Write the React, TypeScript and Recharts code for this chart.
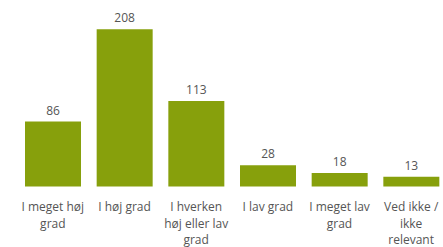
import { BarChart, Bar, XAxis, YAxis, LabelList } from 'recharts';

const categories = [
  'I meget høj\ngrad',
  'I høj grad',
  'I hverken\nhøj eller lav\ngrad',
  'I lav grad',
  'I meget lav\ngrad',
  'Ved ikke /\nikke\nrelevant',
];
const counts = [86, 208, 113, 28, 18, 13];

const data = categories.map((name, i) => ({ name, value: counts[i] }));

const FONT = '"Segoe UI", "Open Sans", sans-serif';

const CategoryTick = (props: any) => {
  const { x, y, payload } = props;
  const lines = String(payload.value).split('\n');
  return (
    <text x={x} y={y} textAnchor="middle" fill="#555" fontSize={12} fontFamily={FONT}>
      {lines.map((line, i) => (
        <tspan key={i} x={x} dy={i === 0 ? 24.5 : 16.7}>
          {line}
        </tspan>
      ))}
    </text>
  );
};

export default function App() {
  return (
    <div style={{ position: 'fixed', left: 0, top: 0, width: 443, height: 247, overflow: 'hidden', background: '#fff' }}>
      <BarChart
        width={447}
        height={247}
        data={data}
        margin={{ top: 29.3, right: 0, left: 17, bottom: 0 }}
        barSize={56}
      >
        <XAxis
          dataKey="name"
          axisLine={false}
          tickLine={false}
          tickSize={0}
          tickMargin={0}
          height={60.5}
          interval={0}
          tick={<CategoryTick />}
        />
        <YAxis hide domain={[0, 208]} />
        <Bar dataKey="value" fill="#87a00c" isAnimationActive={false}>
          <LabelList
            dataKey="value"
            position="top"
            offset={7}
            fill="#555"
            fontSize={12}
            fontFamily={FONT}
          />
        </Bar>
      </BarChart>
    </div>
  );
}
